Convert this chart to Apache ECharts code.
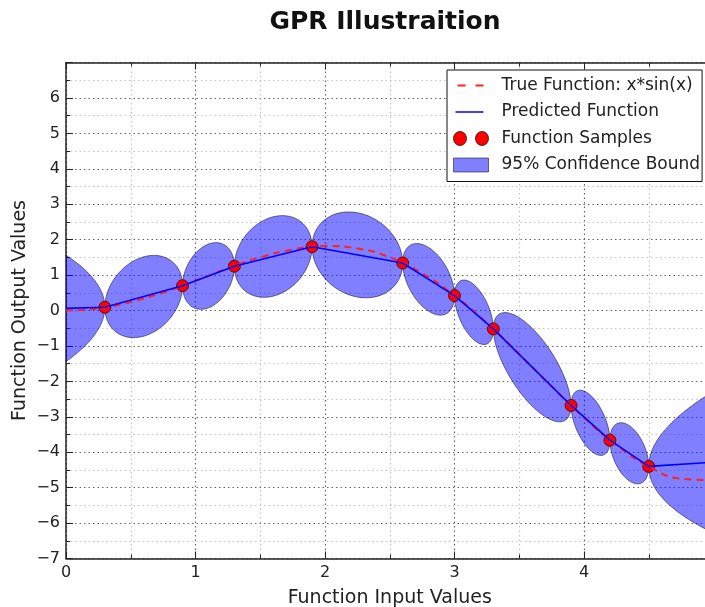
<!DOCTYPE html>
<html>
<head>
<meta charset="utf-8">
<script src="https://cdn.jsdelivr.net/npm/echarts@6/dist/echarts.min.js"></script>
<style>
html,body{margin:0;padding:0;background:#fff;}
#chart{width:705px;height:607px;}
</style>
</head>
<body>
<div id="chart"></div>
<script>
// Noisy-free observations of the target function
const sampleX = [0.3, 0.9, 1.3, 1.9, 2.6, 3.0, 3.3, 3.9, 4.2, 4.5];
const sampleY = [0.09, 0.70, 1.25, 1.80, 1.34, 0.42, -0.52, -2.68, -3.66, -4.40];

// Posterior mean of the GP regression
const predX = [0, 0.3, 0.9, 1.3, 1.9, 2.6, 3.0, 3.3, 3.9, 4.2, 4.5, 5.0];
const predY = [0.06, 0.09, 0.70, 1.25, 1.80, 1.34, 0.42, -0.52, -2.68, -3.66, -4.40, -4.28];

// Target curve x*sin(x)
const trueX = [0, 0.25, 0.5, 0.75, 1.0, 1.25, 1.5, 1.75, 2.0, 2.25, 2.5,
               2.75, 3.0, 3.25, 3.5, 3.75, 4.0, 4.25, 4.5, 4.75, 5.0];
const trueY = [0, 0.06, 0.24, 0.51, 0.84, 1.19, 1.50, 1.72, 1.82, 1.75, 1.50,
               1.05, 0.42, -0.35, -1.23, -2.14, -3.03, -3.80, -4.40, -4.75, -4.79];

// 95% confidence band, one piece per gap between samples
// spread: half-width at the widest point of each piece
const bandStart  = [0, 0.3, 0.9, 1.3, 1.9, 2.6, 3.0, 3.3, 3.9, 4.2, 4.5];
const bandEnd    = [0.3, 0.9, 1.3, 1.9, 2.6, 3.0, 3.3, 3.9, 4.2, 4.5, 5.0];
const bandSpread = [1.50, 1.12, 0.90, 1.12, 1.19, 0.90, 0.78, 1.10, 0.78, 0.78, 2.0];
const bandShape  = ['openLeft', 'lens', 'lens', 'lens', 'lens', 'lens',
                    'lens', 'lens', 'lens', 'lens', 'openRight'];

const FONT = 'DejaVu Sans';

function meanAt(x) {
  return predY[predX.indexOf(x)];
}

const bandData = bandStart.map((x0, i) =>
  [x0, bandEnd[i], meanAt(x0), meanAt(bandEnd[i]), bandSpread[i]]);

function renderBand(params, api) {
  const x0 = api.value(0), x1 = api.value(1);
  const y0 = api.value(2), y1 = api.value(3), s = api.value(4);
  const shape = bandShape[params.dataIndex];
  const upper = [], lower = [];
  const N = 60;
  for (let i = 0; i <= N; i++) {
    let x, m, h;
    if (shape === 'lens') {
      const t = Math.PI * i / N;
      const c = -Math.cos(t);
      x = (x0 + x1) / 2 + (x1 - x0) / 2 * c;
      m = (y0 + y1) / 2 + (y1 - y0) / 2 * c;
      h = s * Math.sin(t);
    } else if (shape === 'openLeft') {
      const u = 1 - i / N;
      x = x1 - (x1 - x0) * u * u;
      m = y1 + (y0 - y1) * u * u;
      h = s * u;
    } else {
      const u = i / N;
      x = x0 + (x1 - x0) * u * u;
      m = y0 + (y1 - y0) * u * u;
      h = s * u;
    }
    upper.push(api.coord([x, m + h]));
    lower.push(api.coord([x, m - h]));
  }
  return {
    type: 'polygon',
    shape: { points: upper.concat(lower.reverse()) },
    style: { fill: 'rgba(0,0,255,0.5)', stroke: 'rgba(0,0,0,0.5)', lineWidth: 1 }
  };
}

const fmtMinus = v => String(v).replace('-', '\u2212');

const gridLine = { show: true, lineStyle: { color: '#666', type: [1.5, 3], width: 1.2 } };
const minorGridLine = { show: true, lineStyle: { color: '#c4c4c4', type: [1.5, 3], width: 1.2 } };
const spine = { show: true, onZero: false, lineStyle: { color: '#222', width: 1.5 } };
const tickIn = { show: true, inside: true, length: 7, lineStyle: { color: '#222', width: 1 } };
const minorTickIn = { show: true, splitNumber: 2, length: 4, lineStyle: { color: '#222', width: 1 } };

const chart = echarts.init(document.getElementById('chart'), null, { renderer: 'canvas' });
chart.setOption({
  animation: false,
  backgroundColor: '#fff',
  title: {
    text: 'GPR Illustraition',
    left: 380, top: 5, textAlign: 'center',
    textStyle: { fontFamily: FONT, fontSize: 25, fontWeight: 'bold', color: '#111' }
  },
  grid: { left: 66, top: 62.5, width: 647.5, height: 496, containLabel: false, outerBoundsMode: 'none' },
  legend: {
    orient: 'vertical', left: 447, top: 70,
    padding: [7, 2, 8, 6],
    itemGap: 9.5, itemWidth: 35, itemHeight: 14,
    symbolKeepAspect: false,
    selectedMode: false,
    backgroundColor: '#fff', borderColor: '#111', borderWidth: 1, borderRadius: 0,
    textStyle: { fontFamily: FONT, fontSize: 17, color: '#222', lineHeight: 17, padding: [0, 0, 0, 8] },
    data: [
      { name: 'True Function: x*sin(x)',
        icon: 'path://M0,0L0.01,0L0,0.01Z M35,14L34.99,14L35,13.99Z M4,6h8v2h-8z M22,6h8v2h-8z',
        itemStyle: { color: '#ff2020', borderWidth: 0 } },
      { name: 'Predicted Function',
        icon: 'path://M0,0L0.01,0L0,0.01Z M35,14L34.99,14L35,13.99Z M2,6.2h28v1.6h-28z',
        itemStyle: { color: '#0000ff', borderWidth: 0 } },
      { name: 'Function Samples',
        icon: 'path://M0,7a6.5,6.5 0 1,0 13,0a6.5,6.5 0 1,0 -13,0z M22,7a6.5,6.5 0 1,0 13,0a6.5,6.5 0 1,0 -13,0z',
        itemStyle: { color: '#ff0000', borderColor: '#440000', borderWidth: 0.8 } },
      { name: '95% Confidence Bound', icon: 'rect',
        itemStyle: { color: 'rgba(0,0,255,0.5)', borderColor: 'rgba(0,0,0,0.5)', borderWidth: 1 } }
    ]
  },
  xAxis: [
    {
      type: 'value', min: 0, max: 5, interval: 1, position: 'bottom',
      name: 'Function Input Values', nameLocation: 'middle', nameGap: 30,
      nameTextStyle: { fontFamily: FONT, fontSize: 19, color: '#222' },
      axisLine: spine, axisTick: tickIn, minorTick: minorTickIn,
      splitLine: gridLine, minorSplitLine: minorGridLine,
      axisLabel: { fontFamily: FONT, fontSize: 16, color: '#222', margin: 6, formatter: fmtMinus }
    },
    {
      type: 'value', min: 0, max: 5, interval: 1, position: 'top',
      axisLine: spine, axisTick: tickIn, minorTick: minorTickIn,
      splitLine: { show: false }, axisLabel: { show: false }
    }
  ],
  yAxis: {
    type: 'value', min: -7, max: 7, interval: 1,
    name: 'Function Output Values', nameLocation: 'middle', nameGap: 36, nameRotate: 90,
    nameMoveOverlap: false,
    nameTextStyle: { fontFamily: FONT, fontSize: 19, color: '#222' },
    axisLine: spine, axisTick: tickIn, minorTick: minorTickIn,
    splitLine: gridLine, minorSplitLine: minorGridLine,
    axisLabel: {
      fontFamily: FONT, fontSize: 16, color: '#222', margin: 6,
      formatter: v => (v === 7 ? '' : fmtMinus(v))
    }
  },
  series: [
    {
      name: '95% Confidence Bound', type: 'custom', clip: true,
      renderItem: renderBand,
      dimensions: ['x0', 'x1', 'y0', 'y1', 'spread'],
      encode: { x: [0, 1], y: [2, 3] },
      data: bandData,
      silent: true
    },
    {
      name: 'True Function: x*sin(x)', type: 'line', smooth: true, showSymbol: false,
      data: trueX.map((x, i) => [x, trueY[i]]),
      lineStyle: { color: '#ff2020', width: 2, type: [7, 5] },
      itemStyle: { color: '#ff2020' }, silent: true
    },
    {
      name: 'Predicted Function', type: 'line', showSymbol: false,
      data: predX.map((x, i) => [x, predY[i]]),
      lineStyle: { color: '#0000ff', width: 1.6 },
      itemStyle: { color: '#0000ff' }, silent: true
    },
    {
      name: 'Function Samples', type: 'scatter', symbol: 'circle', symbolSize: 12,
      data: sampleX.map((x, i) => [x, sampleY[i]]),
      itemStyle: { color: '#ff0000', borderColor: '#440000', borderWidth: 0.8, opacity: 1 },
      silent: true
    }
  ]
});
</script>
</body>
</html>
